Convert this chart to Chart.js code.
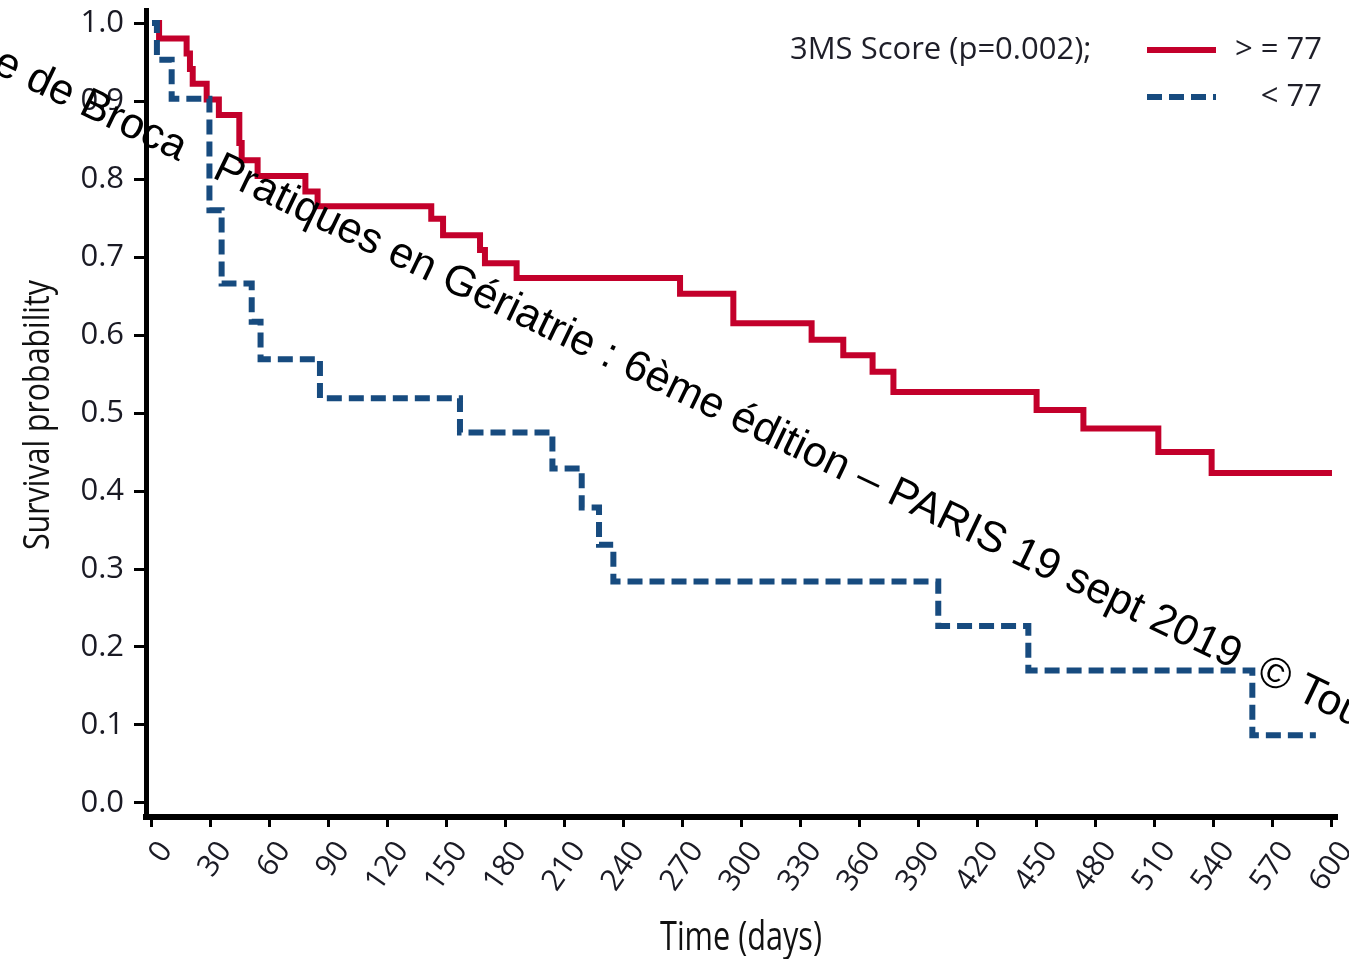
<!DOCTYPE html>
<html>
<head>
<meta charset="utf-8">
<script src="https://cdn.jsdelivr.net/npm/chart.js@4.4.1/dist/chart.umd.min.js"></script>
<style>
  html, body { margin: 0; padding: 0; background: #fff; }
  #wrap { width: 1349px; height: 959px; }
</style>
</head>
<body>
<div id="wrap"><canvas id="kmChart" width="1349" height="959"></canvas></div>
<script>
// survival curves (days, probability)
var redDays = [0, 3.6, 17.6, 19.3, 20.7, 27.8, 34, 44.4, 45.6, 53.7, 78, 84.2, 142, 148, 166.8, 169.3, 185.4, 268.5, 295.6, 335.4, 351.5, 366.4, 377, 449.8, 473.6, 511.7, 538.8, 600];
var redSurv = [1.0, 0.980, 0.961, 0.941, 0.922, 0.902, 0.882, 0.846, 0.824, 0.804, 0.784, 0.765, 0.749, 0.728, 0.709, 0.692, 0.673, 0.653, 0.615, 0.594, 0.574, 0.553, 0.527, 0.504, 0.480, 0.450, 0.423, 0.423];
var blueDays = [0, 2.5, 10, 29.2, 35.4, 50.7, 55.2, 85.4, 156.6, 203.6, 218.5, 227.3, 234.6, 399.8, 445.6, 559.5, 591.8];
var blueSurv = [1.0, 0.953, 0.903, 0.760, 0.666, 0.617, 0.569, 0.519, 0.475, 0.429, 0.379, 0.331, 0.284, 0.227, 0.170, 0.087, 0.087];

var xTicks = [0, 30, 60, 90, 120, 150, 180, 210, 240, 270, 300, 330, 360, 390, 420, 450, 480, 510, 540, 570, 600];
var yTicks = [0, 0.1, 0.2, 0.3, 0.4, 0.5, 0.6, 0.7, 0.8, 0.9, 1.0];

var xTitle = "Time (days)";
var yTitle = "Survival probability";
var legendTitle = "3MS Score (p=0.002);";
var legendLabels = ["> = 77", "< 77"];
var wmPrefix = "Journée de Broca   ";
var wmText = "Pratiques en Gériatrie : 6ème édition – PARIS 19 sept 2019  © Tous droits réservés";

var RED = '#C3002B';
var BLUE = '#174B7F';
var DASH = [15, 7];
var tickFont = '"Open Sans", "Noto Sans", sans-serif';

function toPoints(xs, ys) {
    var pts = [];
    var i = 0;
    while (i < xs.length) {
        pts.push({"x": xs[i], "y": ys[i]});
        i = i + 1;
    }
    return pts;
}

// condensed look for the axis titles: squeeze the text to a given length
function squeezedText(ctx, txt, len) {
    var w = ctx.measureText(txt).width;
    ctx.scale(len / w, 1);
    ctx.fillText(txt, 0, 0);
}

var titlesPlugin = {
    id: 'axisTitles',
    afterDraw: function(chart) {
        var ctx = chart.ctx;
        ctx.save();
        ctx.fillStyle = '#111';
        ctx.font = '40px "Open Sans", sans-serif';
        ctx.textAlign = 'center';
        ctx.textBaseline = 'alphabetic';
        ctx.save();
        ctx.translate(741, 950);
        squeezedText(ctx, xTitle, 162);
        ctx.restore();
        ctx.font = '37px "Open Sans", sans-serif';
        ctx.save();
        ctx.translate(49, 415);
        ctx.rotate(-Math.PI / 2);
        squeezedText(ctx, yTitle, 270);
        ctx.restore();
        ctx.restore();
    }
};

var legendPlugin = {
    id: 'kmLegend',
    afterDraw: function(chart) {
        var ctx = chart.ctx;
        ctx.save();
        ctx.fillStyle = '#1e1e28';
        ctx.font = '31px ' + tickFont;
        ctx.textBaseline = 'middle';
        ctx.textAlign = 'left';
        ctx.fillText(legendTitle, 790, 50);
        ctx.textAlign = 'right';
        ctx.fillText(legendLabels[0], 1322, 50);
        ctx.fillText(legendLabels[1], 1322, 97);
        ctx.lineWidth = 6;
        ctx.lineCap = 'butt';
        ctx.strokeStyle = RED;
        ctx.beginPath(); ctx.moveTo(1147, 50); ctx.lineTo(1216, 50); ctx.stroke();
        ctx.strokeStyle = BLUE;
        ctx.setLineDash(DASH);
        ctx.beginPath(); ctx.moveTo(1147, 97); ctx.lineTo(1216, 97); ctx.stroke();
        ctx.restore();
    }
};

var watermarkPlugin = {
    id: 'watermark',
    afterDraw: function(chart) {
        var ctx = chart.ctx;
        var ang = 25.7 * Math.PI / 180;
        ctx.save();
        ctx.font = '43px "Liberation Sans", Arial, sans-serif';
        var pre = ctx.measureText(wmPrefix).width;
        // "Pratiques" starts at about (211,177) in the picture
        ctx.translate(211 - pre * Math.cos(ang), 177 - pre * Math.sin(ang));
        ctx.rotate(ang);
        ctx.fillStyle = '#000';
        ctx.textBaseline = 'alphabetic';
        ctx.textAlign = 'left';
        ctx.fillText(wmPrefix + wmText, 0, 0);
        ctx.restore();
    }
};

var ctx = document.getElementById('kmChart').getContext('2d');
window.km_chart = new Chart(ctx, {
    type: 'line',
    data: {
        datasets: [
            {
                label: legendLabels[0],
                data: toPoints(redDays, redSurv),
                borderColor: RED,
                borderWidth: 6,
                stepped: 'before',
                borderJoinStyle: 'miter',
                pointRadius: 0,
                fill: false,
                order: 1
            },
            {
                label: legendLabels[1],
                data: toPoints(blueDays, blueSurv),
                borderColor: BLUE,
                borderWidth: 6,
                borderDash: DASH,
                stepped: 'before',
                borderJoinStyle: 'miter',
                pointRadius: 0,
                fill: false,
                order: 0
            }
        ]
    },
    options: {
        responsive: false,
        animation: false,
        devicePixelRatio: 1,
        layout: { padding: { top: 10, right: 12, bottom: 0, left: 0 } },
        plugins: {
            legend: { display: false },
            tooltip: { enabled: false }
        },
        scales: {
            x: {
                type: 'linear',
                min: -3.05,
                max: 602.55,
                afterBuildTicks: function(s) { s.ticks = xTicks.map(function(v) { return {value: v}; }); },
                afterFit: function(s) { s.height = 142; s.paddingLeft = 0; s.paddingRight = 0; },
                border: { display: true, color: '#000', width: 6 },
                grid: { drawOnChartArea: false, drawTicks: true, tickLength: 10, tickWidth: 3, tickColor: '#000' },
                ticks: {
                    autoSkip: false,
                    minRotation: 55,
                    maxRotation: 55,
                    padding: 8,
                    labelOffset: 14,
                    color: '#1a1a24',
                    font: { family: tickFont, size: 30 },
                    callback: function(v) { return String(v); }
                }
            },
            y: {
                type: 'linear',
                min: -0.01795,
                max: 1.01667,
                afterBuildTicks: function(s) { s.ticks = yTicks.map(function(v) { return {value: v}; }); },
                afterFit: function(s) { s.width = 146; s.paddingTop = 0; s.paddingBottom = 0; },
                border: { display: true, color: '#000', width: 5 },
                grid: { drawOnChartArea: false, drawTicks: true, tickLength: 12, tickWidth: 3, tickColor: '#000' },
                ticks: {
                    padding: 10,
                    color: '#1a1a24',
                    font: { family: tickFont, size: 31 },
                    callback: function(v) { return v.toFixed(1); }
                }
            }
        }
    },
    plugins: [legendPlugin, titlesPlugin, watermarkPlugin]
});
</script>
</body>
</html>
